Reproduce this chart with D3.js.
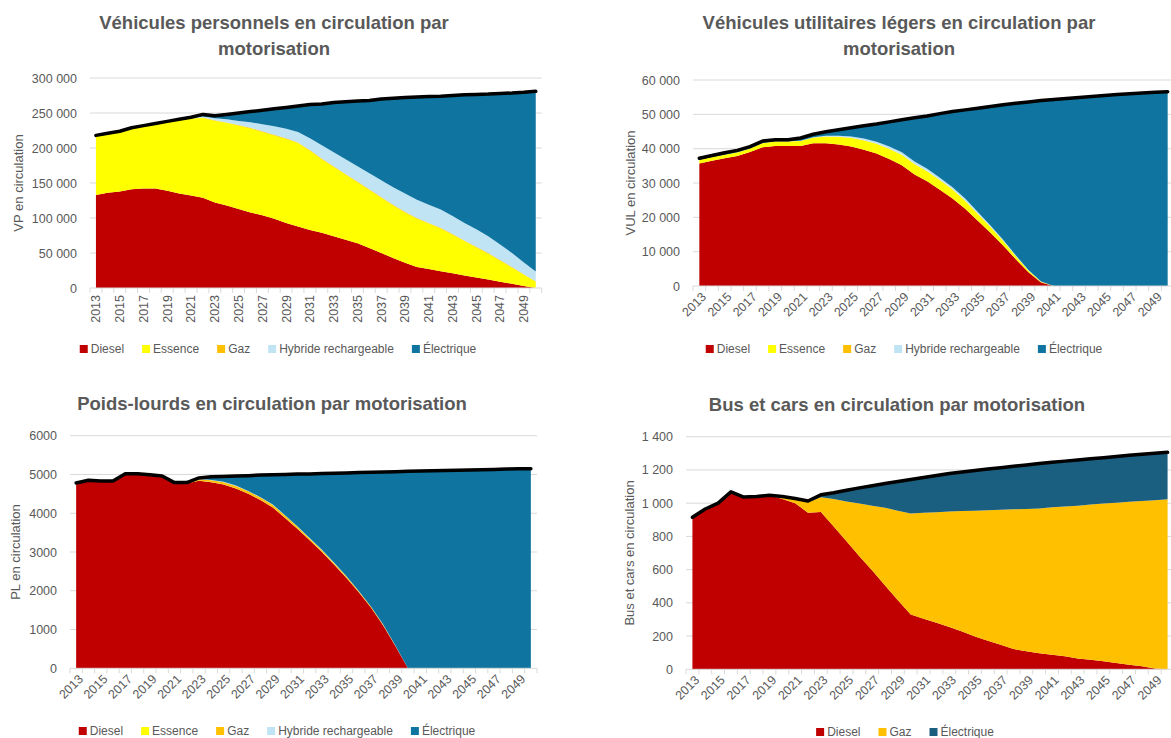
<!DOCTYPE html>
<html>
<head>
<meta charset="utf-8">
<script src="https://cdn.jsdelivr.net/npm/d3@7/dist/d3.min.js"></script>
<style>
body{margin:0;background:#fff;font-family:"Liberation Sans",Arial,sans-serif}
</style>
</head>
<body>
<svg id="main" width="1171" height="738"></svg>
<script>
// categories
const years = [2013,2014,2015,2016,2017,2018,2019,2020,2021,2022,2023,2024,2025,2026,2027,2028,2029,2030,2031,2032,
  2033,2034,2035,2036,2037,2038,2039,2040,2041,2042,2043,2044,2045,2046,2047,2048,2049,2050]

// Vehicules personnels
const vpDiesel = [133000,136000,138000,141000,142000,142000,139000,135000,132000,129000,122000,118000,113000,108000,104000,99000,93000,88000,
  83000,79000,74000,69000,64000,57000,50000,43000,36000,30000,27000,24000,21000,18000,15000,12000,9000,6000,3000,0]
const vpEssence = [84000,84000,85000,87000,89000,92000,98000,105000,110000,114000,117000,118000,119000,120000,119000,119000,120000,119000,
  113000,105000,99000,93000,87000,83000,79000,75000,72000,69000,65000,61000,55000,49000,43000,37000,30000,23000,16000,9000]
const vpGaz = [300,300,300,300,300,300,300,300,300,500,500,600,700,800,900,1000,1000,1000,1000,1000,
  1000,1000,1000,1000,1000,1000,1000,1000,1000,1000,1000,1000,1000,1000,1000,1000,500,500]
const vpHybride = [200,200,200,200,200,200,200,200,200,1500,3000,4400,6000,8000,10000,12000,13500,15000,17000,19000,
  20000,21000,22000,23000,24000,25000,26000,26000,26000,26000,26000,25000,25000,24000,22000,20000,17000,14000]
const vpElec = [500,500,500,500,500,500,500,500,1500,3000,3500,7000,11300,15200,20100,25000,30500,37000,48000,59000,
  71000,82000,93000,104000,116000,127000,137000,147000,154500,162000,172000,183000,192500,203000,216000,228500,243000,257500]

// Vehicules utilitaires legers
const vulDiesel = [35700,36500,37200,37900,39000,40400,40800,40800,40800,41600,41600,41200,40600,39700,38600,37000,35200,32500,
  30500,28000,25500,22500,19000,15500,11800,7800,4000,1000,0,0,0,0,0,0,0,0,0,0]
const vulEssence = [1000,1000,1000,1000,1000,1200,1300,1300,1400,1600,1900,2200,2500,2700,2800,2900,3000,3000,
  2900,2800,2600,2300,2000,1700,1300,900,500,200,0,0,0,0,0,0,0,0,0,0]
const vulGaz = [50,50,50,50,50,50,50,50,50,50,50,50,50,50,50,50,50,50,50,50,50,50,50,50,50,50,50,50,0,0,0,0,0,0,0,0,0,0]
const vulHybride = [0,0,0,0,0,0,0,0,50,100,200,300,400,500,600,700,700,700,
  700,700,600,600,500,400,300,200,100,50,0,0,0,0,0,0,0,0,0,0]
const vulElec = [450,450,550,550,550,550,450,450,800,850,1150,1750,2550,3750,5150,7150,9450,12750,
  15350,18650,22050,25850,30250,34650,39350,44250,48950,52700,54300,54600,54900,55200,55500,55800,56000,56200,56400,56600]

// Poids-lourds
const plDiesel = [4770,4840,4820,4820,5005,5005,4975,4940,4770,4765,4840,4800,4740,4640,4500,4340,4150,3880,
  3600,3300,3000,2670,2330,1960,1560,1100,560,0,0,0,0,0,0,0,0,0,0,0]
const plEssence = [0,0,0,0,0,0,0,0,0,0,5,5,5,5,5,5,5,5,5,5,5,5,5,5,5,5,0,0,0,0,0,0,0,0,0,0,0,0]
const plGaz = [10,10,10,10,15,15,15,20,20,20,30,45,55,60,60,60,60,55,50,45,40,35,30,25,20,15,10,0,0,0,0,0,0,0,0,0,0,0]
const plHybride = [0,0,0,0,0,0,0,0,0,0,5,5,10,10,10,10,10,10,10,10,10,10,10,5,5,5,5,0,0,0,0,0,0,0,0,0,0,0]
const plElec = [0,0,0,0,0,0,0,0,0,5,30,85,140,245,395,570,765,1050,
  1345,1655,1970,2310,2665,3055,3465,3940,4495,5080,5090,5095,5100,5110,5115,5120,5130,5140,5145,5150]

// Bus et cars
const busDiesel = [915,965,1000,1068,1037,1040,1048,1025,999,943,947,860,770,680,595,505,415,330,
  305,280,255,228,198,172,148,122,108,96,88,78,65,58,48,38,28,18,5,0]
const busGaz = [0,0,0,0,0,0,0,10,24,62,88,165,240,318,390,467,540,608,
  637,666,695,725,757,786,812,841,857,872,887,902,920,934,950,965,980,995,1013,1023]
const busElec = [0,0,0,0,0,0,0,5,5,8,15,38,68,94,120,146,175,204,
  213,221,228,234,241,247,253,259,265,271,271,273,275,275,276,278,280,282,283,283]

const colors = {
  "Diesel": "#C00000",
  "Essence": "#FFFF00",
  "Gaz": "#FFC000",
  "Hybride rechargeable": "#C1E4F5",
  "Électrique": "#0F75A0"
}

const svg = d3.select('#main')
const grey = "#595959"

const spaceFmt = v => d3.format(",")(v).replace(/,/g, " ")

function drawChart(o){
  var keys = o.series.map(s => s[0])
  var rows = years.map(function(yr, i){
    var r = {year: yr}
    o.series.forEach(s => r[s[0]] = s[1][i])
    return r
  })
  var col = k => (o.colors && o.colors[k]) || colors[k]

  var x = d3.scaleBand().domain(years).range([o.x0, o.x1])
  var xc = yr => x(yr) + x.bandwidth()/2
  var y = d3.scaleLinear().domain([0, o.yMax]).range([o.yB, o.yT])

  var g = svg.append("g")

  // gridlines
  var ticks = d3.range(0, o.yMax + 1, o.yStep)
  g.selectAll(".grid").data(ticks.slice(1)).enter().append("line")
    .attr("x1", o.x0).attr("x2", o.x1)
    .attr("y1", d => y(d)).attr("y2", d => y(d))
    .attr("stroke", "#d9d9d9").attr("stroke-width", 1)

  // y labels
  var yax = g.append("g").attr("transform", "translate(" + (o.x0 - 10) + ",0)")
    .call(d3.axisLeft(y).tickValues(ticks).tickSize(0).tickFormat(o.fmt))
  yax.select(".domain").remove()
  yax.selectAll("text").attr("fill", grey).style("font-size", "12.5px").style("font-family", "Liberation Sans, Arial, sans-serif")

  // stacked areas
  var stacked = d3.stack().keys(keys)(rows)
  var area = d3.area()
    .x(d => xc(d.data.year))
    .y0(d => y(d[0]))
    .y1(d => y(d[1]))
  g.selectAll(".layer").data(stacked).enter().append("path")
    .attr("d", area)
    .attr("fill", d => col(d.key))

  // x axis line and ticks at band edges
  g.append("line").attr("x1", o.x0).attr("x2", o.x1).attr("y1", o.yB).attr("y2", o.yB)
    .attr("stroke", "#d9d9d9").attr("stroke-width", 1)
  var edges = years.map(yr => x(yr)).concat([o.x1])
  g.selectAll(".tk").data(edges).enter().append("line")
    .attr("x1", d => d).attr("x2", d => d)
    .attr("y1", o.yB).attr("y2", o.yB + 5)
    .attr("stroke", "#d9d9d9").attr("stroke-width", 1)

  g.selectAll(".xl").data(years.filter((d, i) => i % 2 == 0)).enter().append("text")
    .attr("transform", function(d){
      if(o.rot == -90) return "translate(" + xc(d) + "," + (o.yB + 7) + ") rotate(-90)"
      return "translate(" + (xc(d) + 5) + "," + (o.yB + 9) + ") rotate(-45)"
    })
    .attr("dy", o.rot == -90 ? "0.35em" : "0.3em")
    .attr("text-anchor", "end")
    .attr("fill", grey)
    .style("font-size", "12.5px")
    .text(d => d)

  // total line on top of the stack
  var line = d3.line()
    .x(d => xc(d.year))
    .y(d => y(d3.sum(keys, k => d[k])))
  g.append("path").datum(rows)
    .attr("d", line)
    .attr("fill", "none")
    .attr("stroke", "#000")
    .attr("stroke-width", 3.5)
    .attr("stroke-linejoin", "round")
    .attr("stroke-linecap", "round")

  // title
  o.title.forEach(function(t, i){
    g.append("text")
      .attr("x", o.titleX).attr("y", o.titleY + i*26)
      .attr("text-anchor", "middle")
      .attr("fill", grey)
      .style("font-size", "18.5px").style("font-weight", "bold")
      .text(t)
  })

  // y title
  g.append("text")
    .attr("transform", "translate(" + o.yTitleX + "," + ((o.yT + o.yB)/2) + ") rotate(-90)")
    .attr("text-anchor", "middle")
    .attr("dy", "0.35em")
    .attr("fill", grey)
    .style("font-size", "13px")
    .text(o.yTitle)

  // legend
  var lg = g.append("g")
  var pos = 0
  keys.forEach(function(k){
    var it = lg.append("g").attr("transform", "translate(" + pos + ",0)")
    it.append("rect").attr("x", 0).attr("y", -4).attr("width", 8).attr("height", 8).attr("fill", col(k))
    var t = it.append("text").attr("x", 11).attr("dy", "0.35em")
      .attr("fill", grey).style("font-size", "12px").text(k)
    pos += 11 + t.node().getComputedTextLength() + 18
  })
  var w = pos - 18
  lg.attr("transform", "translate(" + (o.legendCx - w/2) + "," + o.legendY + ")")
}

drawChart({
  x0: 90, x1: 541.7, yT: 78, yB: 288, yMax: 300000, yStep: 50000, fmt: spaceFmt,
  series: [["Diesel", vpDiesel], ["Essence", vpEssence], ["Gaz", vpGaz], ["Hybride rechargeable", vpHybride], ["Électrique", vpElec]],
  title: ["Véhicules personnels en circulation par", "motorisation"], titleX: 274, titleY: 29,
  yTitle: "VP en circulation", yTitleX: 18, rot: -90, legendCx: 278, legendY: 349
})

drawChart({
  x0: 693, x1: 1174, yT: 80, yB: 286, yMax: 60000, yStep: 10000, fmt: spaceFmt,
  series: [["Diesel", vulDiesel], ["Essence", vulEssence], ["Gaz", vulGaz], ["Hybride rechargeable", vulHybride], ["Électrique", vulElec]],
  title: ["Véhicules utilitaires légers en circulation par", "motorisation"], titleX: 899, titleY: 29,
  yTitle: "VUL en circulation", yTitleX: 630, rot: -45, legendCx: 904, legendY: 349
})

drawChart({
  x0: 70, x1: 537, yT: 435.7, yB: 668.3, yMax: 6000, yStep: 1000, fmt: d3.format("d"),
  series: [["Diesel", plDiesel], ["Essence", plEssence], ["Gaz", plGaz], ["Hybride rechargeable", plHybride], ["Électrique", plElec]],
  title: ["Poids-lourds en circulation par motorisation"], titleX: 272, titleY: 410,
  yTitle: "PL en circulation", yTitleX: 15, rot: -45, legendCx: 277, legendY: 731
})

drawChart({
  x0: 686, x1: 1174, yT: 436.7, yB: 669.3, yMax: 1400, yStep: 200, fmt: spaceFmt,
  series: [["Diesel", busDiesel], ["Gaz", busGaz], ["Électrique", busElec]],
  colors: {"Électrique": "#1A5E80"},
  title: ["Bus et cars en circulation par motorisation"], titleX: 897, titleY: 411,
  yTitle: "Bus et cars en circulation", yTitleX: 629, rot: -45, legendCx: 905, legendY: 732
})
</script>
</body>
</html>
